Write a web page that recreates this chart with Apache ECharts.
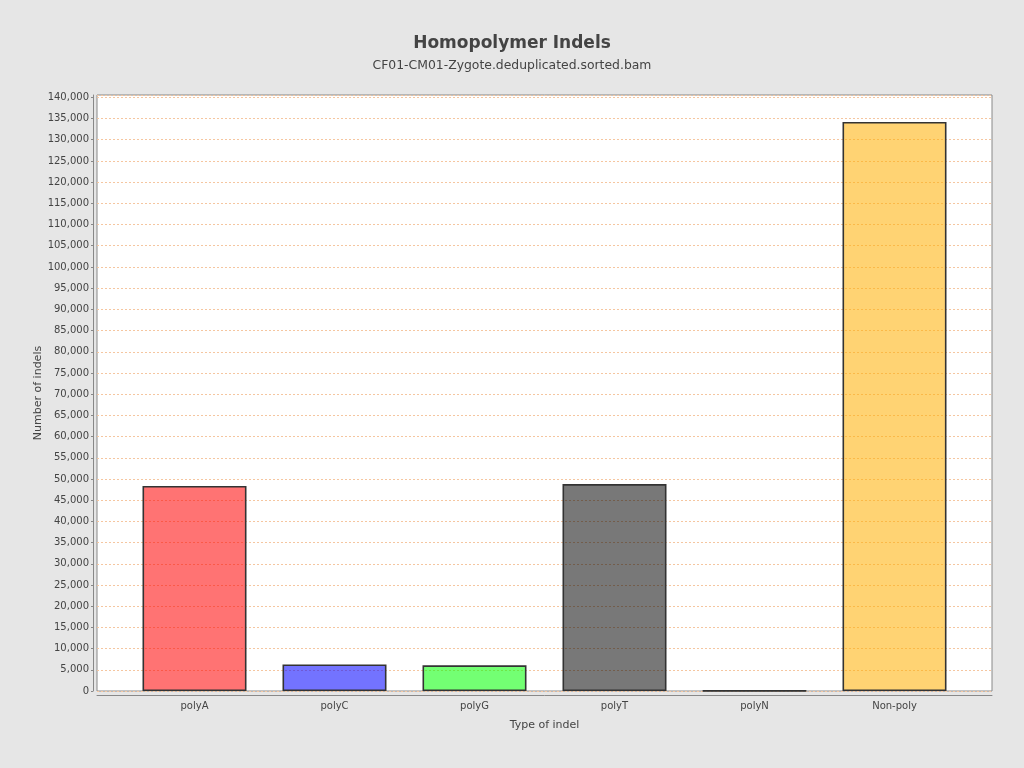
<!DOCTYPE html>
<html>
<head>
<meta charset="utf-8">
<script src="https://cdn.jsdelivr.net/npm/echarts@6/dist/echarts.min.js"></script>
<style>html,body{margin:0;padding:0;background:#e6e6e6;}#c{width:1024px;height:768px;}</style>
</head>
<body>
<div id="c"></div>
<script>
const categories = ['polyA', 'polyC', 'polyG', 'polyT', 'polyN', 'Non-poly'];
const indelCounts = [48350, 6250, 6050, 48800, 60, 134200];
const barColors = ['rgba(255,0,0,0.55)', 'rgba(0,0,255,0.55)', 'rgba(0,255,0,0.55)', 'rgba(0,0,0,0.53)', 'rgba(255,255,0,0.55)', 'rgba(255,175,0,0.55)'];
const titleText = 'Homopolymer Indels';
const subtitleText = 'CF01-CM01-Zygote.deduplicated.sorted.bam';
const yMin = 0, yMax = 140550, yInterval = 5000;

const font = 'DejaVu Sans';
const chart = echarts.init(document.getElementById('c'), null, {renderer: 'canvas'});
chart.setOption({
  backgroundColor: '#e6e6e6',
  animation: false,
  title: [
    {text: titleText, left: 'center', top: 30, textStyle: {fontFamily: font, fontSize: 17, fontWeight: 'bold', color: '#444'}},
    {text: subtitleText, left: 'center', top: 55, textStyle: {fontFamily: font, fontSize: 12.4, fontWeight: 'normal', color: '#444'}}
  ],
  grid: [
    {left: 97, top: 95, width: 895, height: 596, show: true, backgroundColor: '#fff', borderColor: '#888', borderWidth: 1},
    {left: 124.5, top: 95, width: 840, height: 596, show: false}
  ],
  xAxis: [
    {gridIndex: 0, type: 'value', min: 0, max: 1, offset: 4,
     axisLine: {show: true, onZero: false, lineStyle: {color: '#888', width: 1}},
     axisTick: {show: false}, axisLabel: {show: false}, splitLine: {show: false}},
    {gridIndex: 1, type: 'category', data: categories,
     axisLine: {show: false}, axisTick: {show: false},
     axisLabel: {margin: 10, fontFamily: font, fontSize: 10, color: '#444'},
     name: 'Type of indel', nameLocation: 'middle', nameGap: 29, nameMoveOverlap: false,
     nameTextStyle: {fontFamily: font, fontSize: 11, color: '#444'}}
  ],
  yAxis: [
    {gridIndex: 0, type: 'value', min: yMin, max: yMax, interval: yInterval, offset: 4,
     axisLine: {show: true, onZero: false, lineStyle: {color: '#888', width: 1}},
     axisTick: {show: true, length: 2, lineStyle: {color: '#888'}},
     axisLabel: {margin: 4, fontFamily: font, fontSize: 10, color: '#444', showMaxLabel: false,
       formatter: v => v.toLocaleString('en-US')},
     splitLine: {show: true, lineStyle: {color: '#f5c6a0', type: [2, 2], width: 1}},
     name: 'Number of indels', nameLocation: 'middle', nameGap: 49, nameRotate: 90, nameMoveOverlap: false,
     nameTextStyle: {fontFamily: font, fontSize: 11, color: '#444'}},
    {gridIndex: 1, type: 'value', min: yMin, max: yMax, show: false, splitLine: {show: false}}
  ],
  series: [{
    type: 'bar', xAxisIndex: 1, yAxisIndex: 1,
    barWidth: 104,
    data: indelCounts.map((v, i) => ({value: v, itemStyle: {color: barColors[i]}})),
    itemStyle: {borderColor: '#333', borderWidth: 1.6}
  }]
});
</script>
</body>
</html>
